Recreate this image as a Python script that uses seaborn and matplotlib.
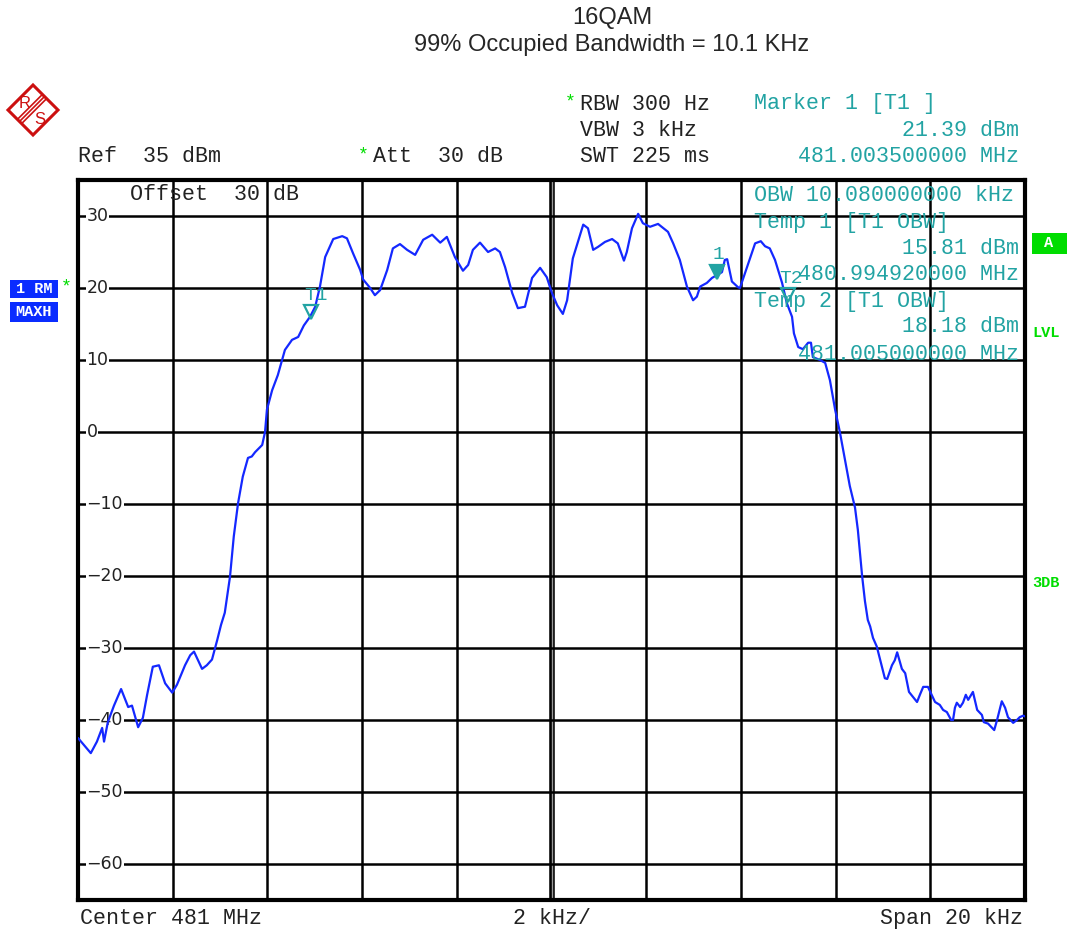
import matplotlib
matplotlib.use("Agg")
import matplotlib.pyplot as plt
from matplotlib.patches import Polygon, Rectangle
from matplotlib.transforms import blended_transform_factory, offset_copy
import numpy as np
import pandas as pd
import seaborn as sns

# ---- trace: offset from centre frequency (kHz) and level (dBm) ----
freq_khz = [
    -10.00, -9.87, -9.73, -9.60, -9.49, -9.45, -9.37, -9.24, -9.09, -8.94,
    -8.86, -8.73, -8.63, -8.54, -8.42, -8.29, -8.16, -8.01, -7.91, -7.74,
    -7.63, -7.55, -7.38, -7.28, -7.17, -7.06, -6.98, -6.90, -6.79, -6.71,
    -6.62, -6.52, -6.41, -6.33, -6.26, -6.11, -6.05, -6.01, -5.90, -5.78,
    -5.69, -5.63, -5.48, -5.35, -5.23, -5.10, -4.99, -4.89, -4.78, -4.61,
    -4.42, -4.32, -4.19, -4.04, -3.98, -3.83, -3.73, -3.62, -3.47, -3.35,
    -3.20, -3.05, -2.88, -2.71, -2.52, -2.35, -2.21, -2.04, -1.87, -1.76,
    -1.66, -1.51, -1.34, -1.19, -1.09, -0.98, -0.83, -0.71, -0.56, -0.41,
    -0.24, -0.10, 0.01, 0.12, 0.24, 0.33, 0.45, 0.67, 0.77, 0.88,
    0.98, 1.13, 1.28, 1.40, 1.53, 1.59, 1.70, 1.83, 1.93, 2.08,
    2.25, 2.46, 2.57, 2.71, 2.86, 2.99, 3.07, 3.14, 3.28, 3.39,
    3.52, 3.60, 3.66, 3.71, 3.81, 3.94, 3.98, 4.13, 4.30, 4.42,
    4.51, 4.61, 4.72, 4.87, 4.97, 5.08, 5.12, 5.21, 5.31, 5.42,
    5.48, 5.52, 5.67, 5.78, 5.88, 5.99, 6.09, 6.20, 6.30, 6.41,
    6.47, 6.56, 6.62, 6.68, 6.73, 6.79, 6.87, 7.04, 7.09, 7.19,
    7.25, 7.30, 7.40, 7.47, 7.55, 7.72, 7.78, 7.85, 7.95, 8.10,
    8.20, 8.27, 8.35, 8.44, 8.48, 8.52, 8.56, 8.63, 8.69, 8.75,
    8.80, 8.90, 8.99, 9.09, 9.13, 9.22, 9.35, 9.41, 9.51, 9.58,
    9.64, 9.75, 9.83, 9.89, 9.96, 10.00,
]
level_dbm = [
    -42.5, -43.5, -44.6, -43.0, -41.1, -43.0, -40.3, -38.0, -35.7, -38.2,
    -38.0, -41.0, -39.7, -36.5, -32.6, -32.4, -34.9, -36.2, -35.1, -32.4,
    -31.0, -30.5, -32.9, -32.4, -31.6, -28.9, -26.8, -25.1, -20.1, -14.5,
    -9.9, -6.2, -3.6, -3.4, -2.8, -1.8, 0.0, 3.1, 5.8, 7.9,
    10.0, 11.4, 12.8, 13.2, 14.8, 16.0, 17.4, 20.2, 24.3, 26.8,
    27.2, 26.9, 24.8, 22.5, 21.2, 20.0, 19.0, 19.7, 22.5, 25.5,
    26.1, 25.3, 24.6, 26.7, 27.4, 26.3, 27.1, 24.3, 22.4, 23.2,
    25.3, 26.3, 25.0, 25.5, 25.0, 22.9, 19.3, 17.2, 17.4, 21.4,
    22.8, 21.5, 19.3, 17.6, 16.4, 18.3, 24.1, 28.8, 28.3, 25.3,
    25.7, 26.4, 26.8, 26.2, 23.8, 25.0, 28.3, 30.3, 29.0, 28.5,
    28.9, 27.8, 26.2, 23.9, 20.2, 18.3, 18.8, 20.2, 20.7, 21.4,
    21.9, 22.2, 23.9, 24.0, 20.9, 20.1, 20.0, 22.9, 26.2, 26.5,
    25.8, 25.5, 23.9, 20.7, 17.9, 16.0, 13.7, 11.8, 11.5, 12.4,
    12.4, 10.4, 10.0, 9.6, 7.2, 3.1, 0.0, -3.9, -7.5, -10.5,
    -13.6, -20.0, -23.5, -26.1, -27.0, -28.6, -29.8, -34.2, -34.3, -32.4,
    -31.7, -30.6, -32.9, -33.5, -36.1, -37.5, -36.5, -35.4, -35.4, -37.5,
    -37.9, -38.6, -38.9, -40.0, -40.0, -38.3, -37.6, -38.2, -37.6, -36.5,
    -37.2, -36.1, -38.6, -39.3, -40.3, -40.5, -41.4, -40.0, -37.4, -38.3,
    -39.6, -40.4, -40.0, -39.6, -39.4, -39.5,
]

grid_levels = [30, 20, 10, 0, -10, -20, -30, -40, -50, -60]
freq_divisions = [-10, -8, -6, -4, -2, 0, 2, 4, 6, 8, 10]

marker_names = ["T1", "1", "T2"]
marker_freq = [-5.08, 3.50, 5.00]
marker_level = [15.81, 21.39, 18.18]
marker_filled = [False, True, False]

title_lines = ["16QAM", "99% Occupied Bandwidth = 10.1 KHz"]

# ---- styling ----
sns.set_style("white")
MONO = "Liberation Mono"
SANS = "Liberation Sans"
plt.rcParams["font.family"] = ["DejaVu Sans"]

TRACE = "#1428ff"
TEAL = "#22a3a3"
GREEN = "#00dd00"
BOXBLUE = "#0a2cff"
RED = "#cc1010"
INK = "#222222"

W, H = 1069, 930
fig = plt.figure(figsize=(W / 100, H / 100), dpi=100)
fig.patch.set_facecolor("white")


def px(x, y):
    return x / W, 1 - y / H


def ftext(x, y, s, **kw):
    fx, fy = px(x, y)
    kw.setdefault("va", "center")
    fig.text(fx, fy, s, **kw)


left, right, top, bottom = 78, 1025, 180, 900
ax = fig.add_axes([left / W, 1 - bottom / H, (right - left) / W, (bottom - top) / H])

df = pd.DataFrame({"freq": freq_khz, "level": level_dbm})
sns.lineplot(data=df, x="freq", y="level", ax=ax, color=TRACE, lw=1.6,
             sort=False, estimator=None, zorder=5)

ax.set_xlim(-10, 10)
ax.set_ylim(-65, 35)
ax.set_xticks([])
ax.set_yticks([])
ax.set_xlabel("")
ax.set_ylabel("")
for sp in ax.spines.values():
    sp.set_linewidth(3.0)
    sp.set_color("black")

# graticule
for f in freq_divisions[1:-1]:
    ax.axvline(f, color="black", lw=1.8, zorder=1)
ax.axvline(0, color="black", lw=4.0, zorder=1)
ax.axvline(0, color="#9a9a9a", lw=1.0, zorder=1)
for lv in grid_levels:
    ax.axhline(lv, color="black", lw=1.8, zorder=1)

# level labels inside the left edge
yt = blended_transform_factory(ax.transAxes, ax.transData)
for lv in grid_levels:
    ax.text(0.009, lv, f"{lv}".replace("-", "\u2212"), transform=yt, va="center",
            ha="left", fontsize=12.5, color=INK, zorder=3,
            bbox=dict(facecolor="white", edgecolor="none", pad=0.6))

# markers: triangle tip sits on the trace level, label above it
for name, f, lv, filled in zip(marker_names, marker_freq, marker_level, marker_filled):
    tri_tr = offset_copy(ax.transData, fig=fig, x=0, y=6, units="dots")
    ax.plot([f], [lv], marker="v", ms=10, mec=TEAL, mew=1.6,
            mfc=TEAL if filled else "none", transform=tri_tr, zorder=6, ls="none")
    dx = {"T1": -7, "1": -5, "T2": -9}[name]
    lab_tr = offset_copy(ax.transData, fig=fig, x=dx, y=23, units="dots")
    ax.text(f, lv, name, transform=lab_tr, family=MONO, fontsize=14, color=TEAL,
            ha="left", va="center", zorder=6)

# text inside the diagram
mono = dict(family=MONO, fontsize=15.6)
ftext(130, 194, "Offset  30 dB", color=INK, **mono)
ftext(754, 195, "OBW 10.080000000 kHz", color=TEAL, **mono)
ftext(754, 222, "Temp 1 [T1 OBW]", color=TEAL, **mono)
ftext(1019, 248, "15.81 dBm", color=TEAL, ha="right", **mono)
ftext(1019, 275, "480.994920000 MHz", color=TEAL, ha="right", **mono)
ftext(754, 301, "Temp 2 [T1 OBW]", color=TEAL, **mono)
ftext(1019, 327, "18.18 dBm", color=TEAL, ha="right", **mono)
ftext(1019, 354, "481.005000000 MHz", color=TEAL, ha="right", **mono)

# header
ftext(612, 18, title_lines[0], family=SANS, fontsize=17, ha="center")
ftext(612, 45, title_lines[1], family=SANS, fontsize=17, ha="center")

ftext(565, 102, "*", color=GREEN, family=MONO, fontsize=13)
ftext(580, 104, "RBW 300 Hz", color=INK, **mono)
ftext(754, 104, "Marker 1 [T1 ]", color=TEAL, **mono)
ftext(580, 131, "VBW 3 kHz", color=INK, **mono)
ftext(1019, 131, "21.39 dBm", color=TEAL, ha="right", **mono)
ftext(78, 157, "Ref  35 dBm", color=INK, **mono)
ftext(358, 155, "*", color=GREEN, family=MONO, fontsize=13)
ftext(373, 157, "Att  30 dB", color=INK, **mono)
ftext(580, 157, "SWT 225 ms", color=INK, **mono)
ftext(1019, 157, "481.003500000 MHz", color=TEAL, ha="right", **mono)

# footer
ftext(80, 918, "Center 481 MHz", color=INK, **mono)
ftext(552, 918, "2 kHz/", color=INK, ha="center", **mono)
ftext(1023, 918, "Span 20 kHz", color=INK, ha="right", **mono)


def fbox(x0, y0, x1, y1, color):
    fx0, fy1 = px(x0, y1)
    fx1, fy0 = px(x1, y0)
    fig.add_artist(Rectangle((fx0, fy1), fx1 - fx0, fy0 - fy1, transform=fig.transFigure,
                             facecolor=color, edgecolor="none"))


# trace status boxes on the left
fbox(10, 280, 58, 298, BOXBLUE)
fbox(10, 302, 58, 322, BOXBLUE)
ftext(34, 289, "1 RM", color="white", family=MONO, fontsize=11, weight="bold", ha="center")
ftext(34, 312, "MAXH", color="white", family=MONO, fontsize=11, weight="bold", ha="center")
ftext(61, 287, "*", color=GREEN, family=MONO, fontsize=13)

# right-hand status flags
fbox(1032, 233, 1067, 254, GREEN)
ftext(1049, 243, "A", color="white", family=MONO, fontsize=11, weight="bold", ha="center")
ftext(1032, 333, "LVL", color=GREEN, family=MONO, fontsize=11, weight="bold")
ftext(1032, 583, "3DB", color=GREEN, family=MONO, fontsize=11, weight="bold")

# manufacturer emblem
cx, cy, r = 33, 110, 25
diamond = [px(cx, cy - r), px(cx + r, cy), px(cx, cy + r), px(cx - r, cy)]
fig.add_artist(Polygon(diamond, closed=True, transform=fig.transFigure,
                       facecolor="white", edgecolor=RED, lw=2.2))
for d in (-3, 0, 3):
    p0 = px(cx + 11 + d * 0.7, cy - 13 + d * 0.7)
    p1 = px(cx - 13 + d * 0.7, cy + 11 + d * 0.7)
    fig.add_artist(plt.Line2D([p0[0], p1[0]], [p0[1], p1[1]], transform=fig.transFigure,
                              color=RED, lw=1.2))
ftext(25, 103, "R", color=RED, family=SANS, fontsize=12, ha="center")
ftext(40, 119, "S", color=RED, family=SANS, fontsize=12, ha="center")

fig.savefig("out.png", dpi=100)
